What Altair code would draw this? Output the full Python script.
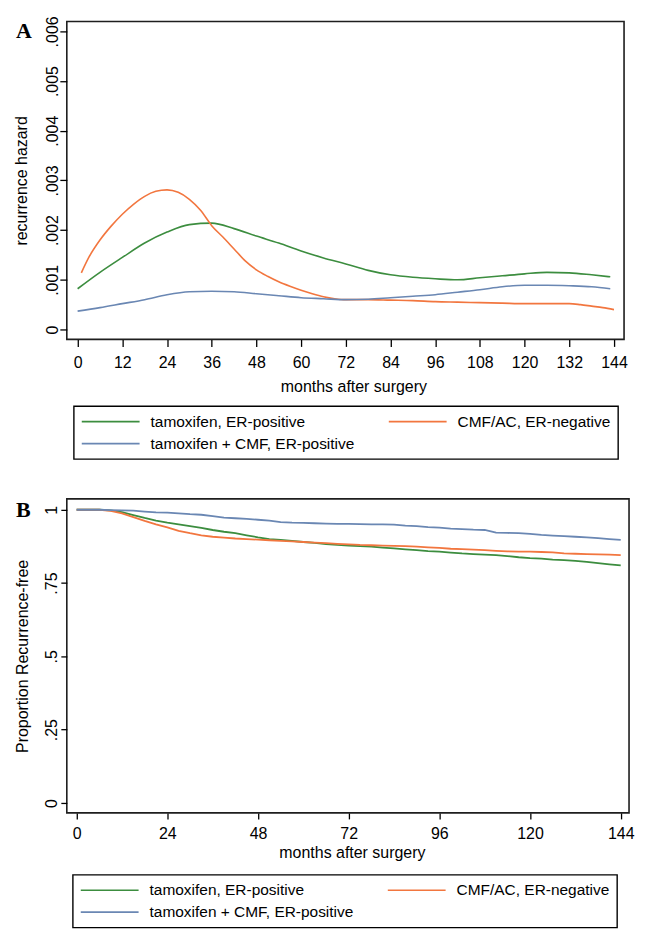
import altair as alt
import pandas as pd

FONT = "Liberation Sans"
SERIES = ["tamoxifen, ER-positive", "tamoxifen + CMF, ER-positive", "CMF/AC, ER-negative"]
COLORS = ["#3c8d3f", "#6a87b3", "#f2763f"]

# ---------------- Panel A: smoothed recurrence hazard ----------------
hazA_months_tam = [0, 6, 12, 18, 24, 30, 36, 42, 48, 54, 60, 66, 72, 78, 84, 90, 96, 102, 108, 114, 120, 126, 132, 138, 143]
hazA_tam = [0.00082, 0.00115, 0.00145, 0.00174, 0.00196, 0.00211, 0.00214, 0.00203, 0.00188, 0.00174, 0.00158, 0.00144,
            0.00132, 0.00119, 0.00110, 0.00105, 0.00102, 0.00100, 0.00104, 0.00108, 0.00112, 0.00115, 0.00114, 0.00110, 0.00106]

hazA_months_cmfac = [1, 3, 6, 9, 12, 15, 18, 21, 24, 27, 30, 33, 36, 39, 42, 45, 48, 51, 54, 57, 60, 63, 66, 69, 72,
                     78, 84, 90, 96, 102, 108, 114, 120, 126, 132, 135, 138, 141, 144]
hazA_cmfac = [0.00114, 0.00145, 0.00180, 0.00208, 0.00232, 0.00252, 0.00268, 0.00278, 0.00281, 0.00276, 0.00262, 0.00240,
              0.00209, 0.00186, 0.00162, 0.00138, 0.00120, 0.00107, 0.00096, 0.00087, 0.00079, 0.00072, 0.00066, 0.00062,
              0.00060, 0.00060, 0.00059, 0.00058, 0.00056, 0.00055, 0.00054, 0.00053, 0.00052, 0.00052, 0.00052, 0.00050,
              0.00047, 0.00044, 0.00040]

hazA_months_combo = [0, 6, 12, 18, 24, 30, 36, 42, 48, 54, 60, 66, 72, 78, 84, 90, 96, 102, 108, 114, 120, 126, 132, 138, 143]
hazA_combo = [0.00037, 0.00044, 0.00052, 0.00060, 0.00070, 0.00076, 0.00077, 0.00076, 0.00072, 0.00068, 0.00064, 0.00062,
              0.00060, 0.00061, 0.00064, 0.00067, 0.00070, 0.00075, 0.00080, 0.00086, 0.00089, 0.00089, 0.00088, 0.00086, 0.00082]

yticksA = [0, 0.001, 0.002, 0.003, 0.004, 0.005, 0.006]
xticksA = [0, 12, 24, 36, 48, 60, 72, 84, 96, 108, 120, 132, 144]

# ---------------- Panel B: Kaplan-Meier recurrence-free ----------------
km_months = [0, 3, 6, 9, 12, 15, 18, 21, 24, 27, 30, 33, 36, 39, 42, 45, 48, 51, 54, 57, 60, 63, 66, 69, 72, 75, 78, 81,
             84, 87, 90, 93, 96, 99, 102, 105, 108, 111, 114, 117, 120, 123, 126, 129, 132, 135, 138, 141, 144]
km_tam = [1.0, 1.0, 1.0, 0.998, 0.992, 0.982, 0.972, 0.963, 0.956, 0.950, 0.944, 0.938, 0.931, 0.925, 0.920, 0.913,
          0.906, 0.900, 0.897, 0.894, 0.890, 0.887, 0.883, 0.880, 0.878, 0.876, 0.874, 0.871, 0.868, 0.865, 0.862, 0.859,
          0.857, 0.854, 0.851, 0.849, 0.847, 0.845, 0.842, 0.838, 0.835, 0.833, 0.830, 0.828, 0.826, 0.822, 0.818, 0.814, 0.810]
km_cmfac = [1.0, 1.0, 1.0, 0.996, 0.988, 0.975, 0.962, 0.950, 0.940, 0.928, 0.920, 0.913, 0.908, 0.905, 0.902, 0.900,
            0.898, 0.896, 0.894, 0.892, 0.890, 0.888, 0.886, 0.884, 0.882, 0.880, 0.879, 0.878, 0.877, 0.876, 0.874, 0.872,
            0.870, 0.867, 0.866, 0.864, 0.862, 0.860, 0.858, 0.857, 0.857, 0.856, 0.855, 0.851, 0.850, 0.849, 0.848, 0.847, 0.845]
km_combo = [1.0, 1.0, 1.0, 0.999, 0.998, 0.997, 0.994, 0.991, 0.990, 0.988, 0.985, 0.983, 0.978, 0.973, 0.971, 0.969,
            0.966, 0.963, 0.958, 0.956, 0.955, 0.954, 0.953, 0.952, 0.952, 0.951, 0.950, 0.950, 0.949, 0.946, 0.944, 0.941,
            0.939, 0.936, 0.934, 0.932, 0.931, 0.922, 0.921, 0.920, 0.918, 0.914, 0.912, 0.910, 0.908, 0.906, 0.903, 0.900, 0.897]

yticksB = [0, 0.25, 0.5, 0.75, 1]
xticksB = [0, 24, 48, 72, 96, 120, 144]


def frame(months, values, name):
    return pd.DataFrame({"month": months, "value": values, "group": name})


dfA = pd.concat([
    frame(hazA_months_tam, hazA_tam, "tamoxifen, ER-positive"),
    frame(hazA_months_cmfac, hazA_cmfac, "CMF/AC, ER-negative"),
    frame(hazA_months_combo, hazA_combo, "tamoxifen + CMF, ER-positive"),
])
dfB = pd.concat([
    frame(km_months, km_tam, "tamoxifen, ER-positive"),
    frame(km_months, km_cmfac, "CMF/AC, ER-negative"),
    frame(km_months, km_combo, "tamoxifen + CMF, ER-positive"),
])


def legend(lx, ly):
    return alt.Legend(
        title=None, orient="none", legendX=lx, legendY=ly, columns=2,
        symbolType="stroke", symbolSize=3364, symbolStrokeWidth=1.6, clipHeight=17,
        labelFont=FONT, labelFontSize=15.5, labelColor="black", labelLimit=400, labelOffset=10,
        columnPadding=33, rowPadding=5, padding=7, fillColor="white", strokeColor="black",
    )


def panel_title(letter, off):
    return alt.TitleParams(
        text=letter, anchor="start", frame="group", offset=off, dx=-51,
        baseline="alphabetic", font="Liberation Serif", fontSize=22, fontWeight="bold", color="black",
    )


WA, HA = 559, 319
WB, HB = 564, 315

chartA = alt.Chart(dfA).mark_line(strokeWidth=1.6, interpolate="monotone").encode(
    x=alt.X("month:Q", scale=alt.Scale(domain=[-2.9, 146.7], nice=False, zero=False),
            axis=alt.Axis(values=xticksA, title="months after surgery", labelPadding=8, tickSize=7,
                          titleX=WA / 2 + 8, titleY=47, titleBaseline="middle")),
    y=alt.Y("value:Q", scale=alt.Scale(domain=[-0.0002, 0.0062], nice=False, zero=False),
            axis=alt.Axis(values=yticksA, title="recurrence hazard", tickSize=7, labelPadding=2,
                          labelAngle=270, labelAlign="center", labelBaseline="alphabetic",
                          labelExpr="datum.value == 0 ? '0' : replace(format(datum.value, '.3f'), '0.', '.')",
                          titleX=-45, titleY=HA / 2, titleAngle=270, titleBaseline="middle", titleAlign="center")),
    color=alt.Color("group:N", scale=alt.Scale(domain=SERIES, range=COLORS), legend=legend(7, 386)),
).properties(width=WA, height=HA, title=panel_title("A", -44))

chartB = alt.Chart(dfB).mark_line(strokeWidth=1.8, interpolate="linear").encode(
    x=alt.X("month:Q", scale=alt.Scale(domain=[-2.6, 146.2], nice=False, zero=False),
            axis=alt.Axis(values=xticksB, title="months after surgery", labelPadding=7, tickSize=6,
                          titleX=WB / 2 + 4, titleY=40, titleBaseline="middle")),
    y=alt.Y("value:Q", scale=alt.Scale(domain=[-0.034, 1.037], nice=False, zero=False),
            axis=alt.Axis(values=yticksB, title="Proportion Recurrence-free", tickSize=6, labelPadding=4,
                          labelAngle=270, labelAlign="center", labelBaseline="alphabetic",
                          labelExpr="datum.value == 0 ? '0' : datum.value == 1 ? '1' : replace(toString(datum.value), '0.', '.')",
                          titleX=-44, titleY=HB / 2, titleAngle=270, titleBaseline="middle", titleAlign="center")),
    color=alt.Color("group:N", scale=alt.Scale(domain=SERIES, range=COLORS), legend=legend(6, 377)),
).properties(width=WB, height=HB, title=panel_title("B", -40))

chart = alt.vconcat(chartA, chartB, spacing=37).resolve_legend(color="independent").properties(
    padding={"left": 5, "top": 5, "right": 5, "bottom": 5}
).configure_view(stroke="#1e1e1e", strokeWidth=1.6).configure_axis(
    domain=False, grid=False, ticks=True, tickColor="black", tickWidth=1.3,
    labelFont=FONT, labelFontSize=16, labelColor="black", labelFlush=False,
    titleFont=FONT, titleFontSize=16, titleFontWeight="normal", titleColor="black",
).configure_legend(strokeWidth=1.4)

chart.save("out.html", embed_options={"renderer": "svg", "actions": False})
